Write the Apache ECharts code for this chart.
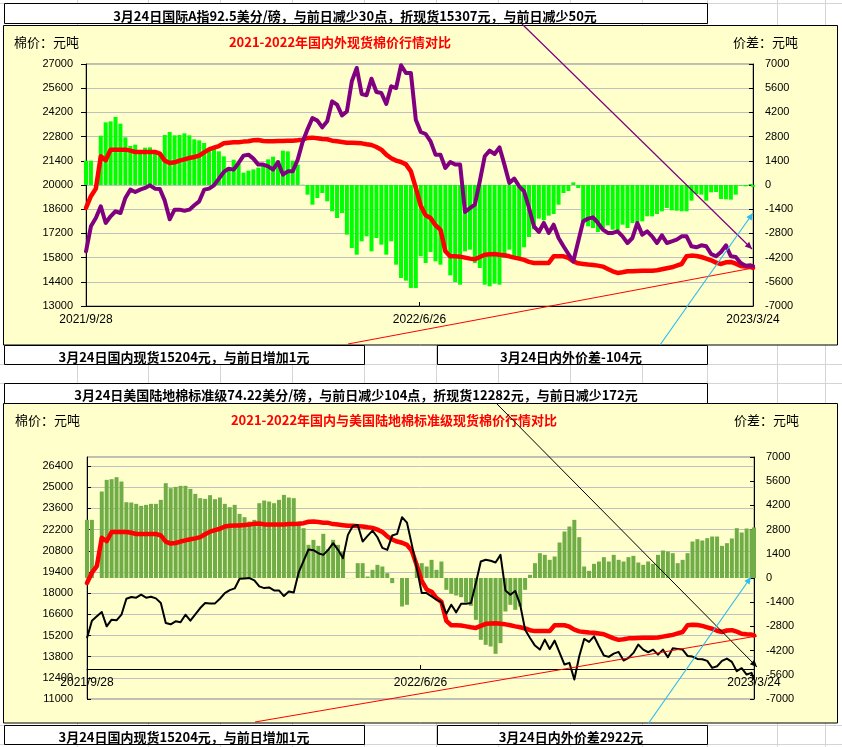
<!DOCTYPE html>
<html><head><meta charset="utf-8">
<script src="https://cdn.jsdelivr.net/npm/echarts@6/dist/echarts.min.js"></script>
<style>html,body{margin:0;padding:0;background:#fff;}#c{width:842px;height:747px;}</style>
</head><body><div id="c"></div>
<script>
// ---------- data ----------
const tickLabels = ['2021/9/28', '2022/6/26', '2023/3/24'];
// sample days counted from 2021/9/28 (every 4 days, last = 2023/3/24)
const days = [];
for (let d = 0; d <= 540; d += 4) days.push(d);
days.push(542);

// 国内现货 (元/吨)
const domestic = [18670,19350,19790,21660,21430,22045,22045,22045,22045,21990,
21910,21910,21910,21910,21910,21815,21410,21275,21315,21410,
21485,21565,21620,21700,21890,22065,22160,22255,22410,22450,
22470,22470,22510,22530,22585,22605,22545,22530,22530,22545,
22545,22565,22565,22585,22625,22720,22740,22700,22660,22645,
22565,22530,22490,22450,22450,22430,22410,22355,22315,22200,
22045,21755,21545,21410,21330,21195,20790,19830,18805,18245,
18095,17670,17420,16165,15875,15875,15855,15800,15740,15700,
15835,15970,15990,16010,15970,15935,15875,15800,15740,15665,
15550,15490,15490,15490,15490,15875,15875,15875,15780,15585,
15470,15430,15395,15375,15335,15280,15145,15010,14910,14950,
15010,15010,15030,15045,15045,15045,15065,15125,15180,15240,
15335,15430,15875,15915,15895,15835,15740,15645,15510,15430,
15530,15550,15450,15315,15280,15260,15204];

// 国际A指折现货 (元/吨)
const intl = [16165,17610,18095,18770,17805,18190,18480,18380,19250,19730,
19595,19730,19830,19980,19790,19770,19095,18015,18575,18575,
18515,18575,18825,19055,19730,19790,19980,20370,20755,20945,
20890,21275,21700,21755,21525,21180,21180,21080,20890,21330,
20600,20790,20790,21465,22490,23220,23875,23725,23335,23685,
24840,24650,24030,24260,26000,26770,25265,25190,26150,25380,
25325,24685,25710,25610,26925,26480,26480,23780,23065,22950,
22525,21755,21755,20985,21330,21180,21180,18440,18670,18865,
20215,21660,21985,21795,22180,21180,20115,20370,19925,19635,
18670,17610,17285,17805,17225,17705,16935,16455,16010,15585,
16745,17900,18055,18130,17805,17420,17225,17225,17320,17030,
16645,16935,17805,17130,17320,17030,16645,17090,16645,16745,
16840,17030,17030,16455,16395,16510,16455,16010,15875,16125,
16510,15875,15835,15490,15335,15355,15307];

// 内外价差 (国内 - 国际)
const spreadIntl = [1407,1407,null,2853,3625,3682,3933,3548,2757,2256,
2333,1967,2159,2179,1967,1832,2892,3066,2873,2892,
2988,2873,2641,2584,2429,2140,2159,1947,1658,1041,
1465,1215,713,829,906,1003,1138,1485,1639,1407,
1986,1947,1407,1176,19,-559,-1138,-752,-463,-945,
-1523,-1909,-1620,-2873,-3644,-4030,-3258,-2969,-3837,-3066,
-3451,-4030,-3258,-4608,-5379,-5533,-5958,-5958,-4126,-4512,
-3875,-4415,-4608,-3837,-5225,-5610,-5765,-3837,-3740,-4512,
-4801,-5765,-5861,-5707,-5765,-4222,-3740,-4261,-4319,-3605,
-3008,-2564,-1947,-2044,-1774,-1677,-1138,-463,-347,154,
-174,-2198,-2391,-2487,-2718,-2487,-2333,-2584,-2603,-2294,
-2487,-2198,-2140,-2102,-1812,-1812,-1677,-1523,-1330,-1465,
-1485,-1523,-1523,-906,-521,-559,-906,-424,-405,-810,
-829,-848,-559,-39,-77,58,-104];

// 美国陆地棉标准级折现货 (元/吨)
const us = [15036,16179,16465,16751,15806,16245,16201,16575,17630,17740,
17696,17894,17696,17762,17652,17344,16025,15937,16135,16069,
16575,16179,16597,17015,17344,17322,17322,17630,18004,18201,
18311,18949,18971,18993,18839,18443,18333,18377,18179,18179,
17806,18113,18048,19366,20136,20883,20839,20641,20531,20861,
21301,20861,20312,21850,22444,22510,21411,21784,22136,21696,
20993,20861,21806,21916,23015,22663,21191,19652,18004,18004,
17784,17564,17410,16641,17234,16729,17300,17300,17344,18663,
20092,20202,20136,20026,20531,18179,17894,18136,17234,15586,
15036,14531,14267,14926,14311,14860,14069,13278,13388,12289,
13827,14970,14773,15146,14487,13871,13783,14003,14113,13542,
13717,14047,14597,14267,14091,14267,13937,14267,13761,14355,
14311,14267,13849,13805,13652,13630,13520,13058,13168,13520,
13674,13454,12838,13036,12618,12728,12282];

// 内外价差 (国内 - 美棉)
const spreadUS = [3364,3364,null,5003,5678,5717,5832,5581,4386,4367,
4290,4174,4232,4290,4290,4521,5485,5196,5273,5331,
5331,5157,4868,4618,4579,4791,4560,4656,4290,4097,
4232,3711,3518,3268,3364,4328,4483,4425,4328,4521,
4810,4656,4618,3268,2882,1918,2208,1860,2555,1668,
2208,1918,1533,-10,-10,858,858,87,472,762,
665,280,-299,-10,-1648,-1552,-10,858,858,665,
1051,472,954,-684,-916,-1012,-1109,-1417,-1610,-2420,
-3577,-3866,-3962,-4386,-3769,-1938,-1552,-1841,-1648,-684,
183,858,1436,1340,1051,1244,2053,2689,2979,3364,
2362,665,415,819,954,1205,954,1340,1051,954,
1205,1282,897,762,954,819,1340,1591,1533,1436,
858,1051,1436,2111,2246,2169,2304,2400,2400,1860,
2015,2285,2882,2632,2863,2824,2922];

// ---------- texts ----------
const headTop = '3月24日国际A指92.5美分/磅，与前日减少30点，折现货15307元，与前日减少50元';
const footTopL = '3月24日国内现货15204元，与前日增加1元';
const footTopR = '3月24日内外价差-104元';
const headBot = '3月24日美国陆地棉标准级74.22美分/磅，与前日减少104点，折现货12282元，与前日减少172元';
const footBotL = '3月24日国内现货15204元，与前日增加1元';
const footBotR = '3月24日内外价差2922元';
const titleTop = '2021-2022年国内外现货棉价行情对比';
const titleBot = '2021-2022年国内与美国陆地棉标准级现货棉价行情对比';

// ---------- chart ----------
const pairs = arr => days.map((d, i) => [d, arr[i]]);
const CJK = '"Noto Sans CJK SC", "Noto Sans", sans-serif';
const NUM = '"Liberation Sans", Arial, sans-serif';

function xAx(gi, offset) {
  return {
    type: 'value', gridIndex: gi, min: 0, max: 542, interval: 271, position: 'bottom', offset: offset,
    axisLine: {show: true, onZero: false, lineStyle: {color: '#000', width: 1}},
    axisTick: {show: true, inside: true, length: 4, lineStyle: {color: '#000'}},
    axisLabel: {show: true, margin: 8, color: '#000', fontFamily: NUM, fontSize: 12,
      showMinLabel: true, showMaxLabel: true,
      formatter: v => tickLabels[Math.round(v / 271)] || ''},
    splitLine: {show: false}
  };
}
function yAx(gi, pos, min, max, tickInside, tickLen, margin, split, showMax) {
  return {
    type: 'value', gridIndex: gi, position: pos, min: min, max: max, interval: 1400,
    axisLine: {show: true, onZero: false, lineStyle: {color: '#000', width: 1}},
    axisTick: {show: true, inside: tickInside, length: tickLen, lineStyle: {color: '#000'}},
    axisLabel: {show: true, margin: margin, color: '#000', fontFamily: NUM, fontSize: 11,
      showMinLabel: true, showMaxLabel: showMax, formatter: v => String(v)},
    splitLine: {show: split, lineStyle: {color: '#C0C0C0', width: 1}}
  };
}

const G = [];
// page (spreadsheet) grid
[77,148,220,292,364,436,498,570,642,707,777,825].forEach(x => G.push({type: 'line', silent: true, z: -30,
  shape: {x1: x + 0.5, y1: 0, x2: x + 0.5, y2: 747}, style: {stroke: '#D4D4D4', lineWidth: 1}}));
[3,364,383,725,744].forEach(y => G.push({type: 'line', silent: true, z: -30,
  shape: {x1: 0, y1: y + 0.5, x2: 842, y2: y + 0.5}, style: {stroke: '#D4D4D4', lineWidth: 1}}));
// chart boxes
G.push({type: 'rect', silent: true, z: -20, shape: {x: 3.5, y: 25.5, width: 834, height: 319.5},
  style: {fill: '#FFFFCC', stroke: '#000', lineWidth: 1}});
G.push({type: 'rect', silent: true, z: -20, shape: {x: 3.5, y: 403.5, width: 834, height: 319.5},
  style: {fill: '#FFFFCC', stroke: '#000', lineWidth: 1}});
// text boxes
function tbox(x, y, w, h, txt, cx, cy) {
  G.push({type: 'rect', silent: true, z: -19, shape: {x: x + 0.5, y: y + 0.5, width: w, height: h},
    style: {fill: '#FFFFFF', stroke: '#000', lineWidth: 1}});
  G.push({type: 'text', silent: true, z: 50, style: {text: txt, x: cx, y: cy, textAlign: 'center', textVerticalAlign: 'middle',
    align: 'center', verticalAlign: 'middle', font: 'bold 13px ' + CJK, fill: '#000'}});
}
tbox(4, 3, 703, 20, headTop, 355, 16);
tbox(4, 345, 360, 19, footTopL, 184, 357);
tbox(437, 345, 270, 19, footTopR, 571, 357);
tbox(4, 383, 703, 20, headBot, 356, 395);
tbox(4, 725, 360, 19, footBotL, 184, 737);
tbox(437, 725, 270, 19, footBotR, 571, 737);

function txt(t, x, y, align, font, color) {
  G.push({type: 'text', silent: true, z: 50, style: {text: t, x: x, y: y, textAlign: align, textVerticalAlign: 'middle',
    align: align, verticalAlign: 'middle', font: font, fill: color}});
}
txt('棉价：元吨', 14, 42, 'left', '13px ' + CJK, '#000');
txt('价差：元吨', 733, 42, 'left', '13px ' + CJK, '#000');
txt(titleTop, 340, 42, 'center', 'bold 13px ' + CJK, '#FF0000');
txt('棉价：元吨', 15, 420, 'left', '13px ' + CJK, '#000');
txt('价差：元吨', 734, 420, 'left', '13px ' + CJK, '#000');
txt(titleBot, 394, 420, 'center', 'bold 13px ' + CJK, '#FF0000');

// annotation lines
function arrow(x1, y1, x2, y2, color, w, head) {
  G.push({type: 'line', silent: true, z: 100, shape: {x1: x1, y1: y1, x2: x2, y2: y2}, style: {stroke: color, lineWidth: w}});
  if (head) {
    const dx = x2 - x1, dy = y2 - y1, L = Math.hypot(dx, dy), ux = dx / L, uy = dy / L, hl = 7, hw = 3.2;
    const bx = x2 - ux * hl, by = y2 - uy * hl;
    G.push({type: 'polygon', silent: true, z: 100,
      shape: {points: [[x2, y2], [bx - uy * hw, by + ux * hw], [bx + uy * hw, by - ux * hw]]}, style: {fill: color}});
  }
}
arrow(522, 24, 752, 249, '#800080', 1.2, true);
arrow(348, 344, 753, 268, '#FF0000', 1, false);
arrow(660, 345, 753, 213, '#33BBEE', 1.2, true);
arrow(497, 404, 757, 667, '#000000', 1, true);
arrow(255, 722, 757, 636, '#FF0000', 1, false);
arrow(648, 724, 751, 577, '#33BBEE', 1.2, true);

const chart = echarts.init(document.getElementById('c'), null, {renderer: 'canvas'});
chart.setOption({
  animation: false,
  backgroundColor: '#FFFFFF',
  grid: [
    {left: 86, top: 64, width: 667, height: 242, show: true, borderColor: '#808080', borderWidth: 1,
      backgroundColor: 'transparent', containLabel: false, outerBoundsMode: 'none'},
    {left: 87, top: 457, width: 667, height: 242, show: true, borderColor: '#808080', borderWidth: 1,
      backgroundColor: 'transparent', containLabel: false, outerBoundsMode: 'none'}
  ],
  xAxis: [xAx(0, 0), xAx(1, -30)],
  yAxis: [
    yAx(0, 'left', 13000, 27000, false, 5, 13, true, true),
    yAx(0, 'right', -7000, 7000, true, 4, 12, false, true),
    yAx(1, 'left', 11000, 27000, true, 4, 14, true, false),
    yAx(1, 'right', -7000, 7000, true, 4, 12, false, true)
  ],
  series: [
    {type: 'bar', name: '内外价差', xAxisIndex: 0, yAxisIndex: 1, data: pairs(spreadIntl), barWidth: 4,
      itemStyle: {color: '#00FF00'}, silent: true, z: 1},
    {type: 'line', name: '国内现货', xAxisIndex: 0, yAxisIndex: 0, data: pairs(domestic), symbol: 'none',
      lineStyle: {color: '#FF0000', width: 4.5, cap: 'round', join: 'round'}, silent: true, z: 2},
    {type: 'line', name: '国际A指', xAxisIndex: 0, yAxisIndex: 0, data: pairs(intl), symbol: 'none',
      lineStyle: {color: '#800080', width: 4, cap: 'round', join: 'round'}, silent: true, z: 3},
    {type: 'bar', name: '内外价差', xAxisIndex: 1, yAxisIndex: 3, data: pairs(spreadUS), barWidth: 4,
      itemStyle: {color: '#70AD47'}, silent: true, z: 1},
    {type: 'line', name: '国内现货', xAxisIndex: 1, yAxisIndex: 2, data: pairs(domestic), symbol: 'none',
      lineStyle: {color: '#FF0000', width: 4.5, cap: 'round', join: 'round'}, silent: true, z: 2},
    {type: 'line', name: '美棉标准级', xAxisIndex: 1, yAxisIndex: 2, data: pairs(us), symbol: 'none',
      lineStyle: {color: '#000000', width: 2, join: 'round'}, silent: true, z: 3}
  ],
  graphic: {elements: G}
});
</script>
</body></html>
